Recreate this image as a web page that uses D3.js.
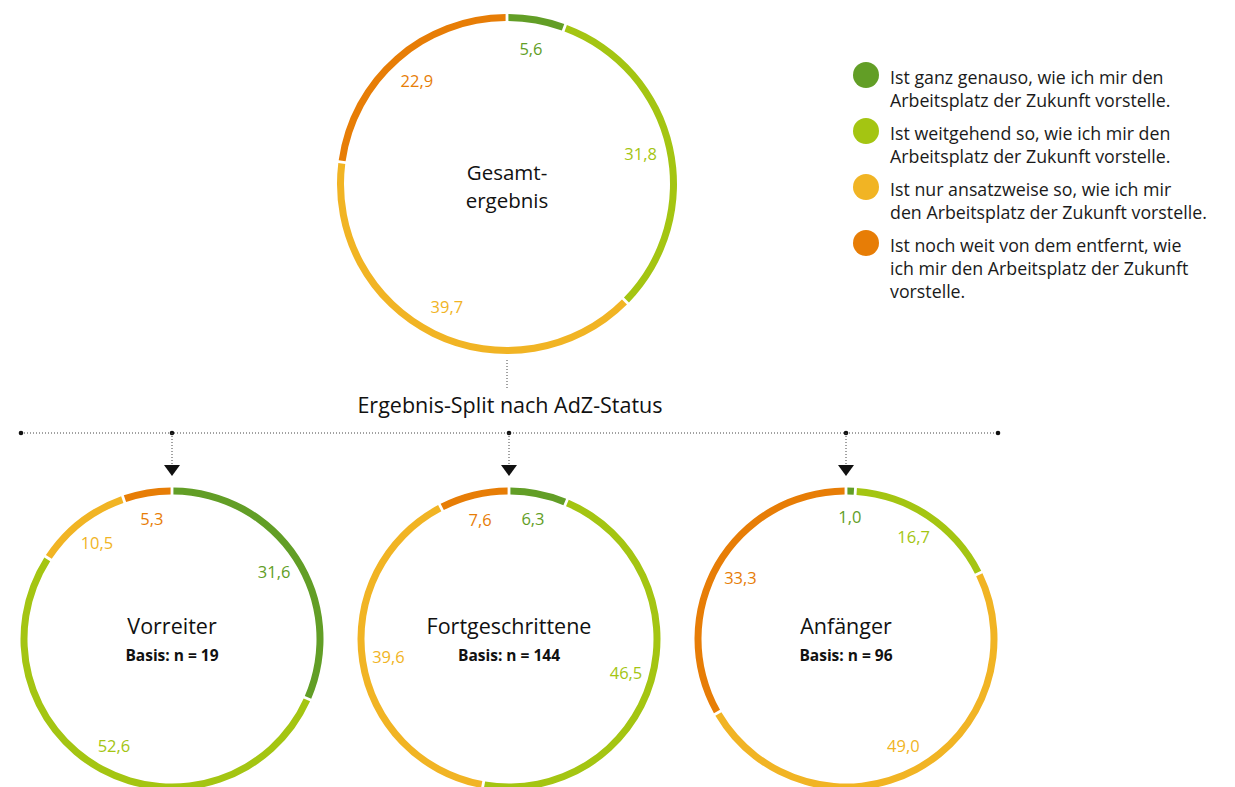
<!DOCTYPE html>
<html lang="de">
<head>
<meta charset="utf-8">
<script src="https://cdn.jsdelivr.net/npm/d3@7"></script>
<style>
  html, body { margin: 0; padding: 0; background: #fff; }
  svg { display: block; font-family: "Open Sans", "Noto Sans", sans-serif; }
  .val { font-weight: 400; font-size: 16.5px; }
  .title { font-size: 21.5px; fill: #111; }
  .title-main { font-size: 20.5px; fill: #111; }
  .basis { font-size: 15.5px; font-weight: 700; fill: #111; }
  .legend-text { font-size: 17.8px; fill: #1a1a1a; }
  .split { font-size: 21.5px; fill: #111; }
  .dotted { stroke: #444; stroke-width: 1; stroke-dasharray: 1,2; fill: none; }
</style>
</head>
<body>
<svg id="chart" width="1235" height="787"></svg>
<script>
// answer categories (legend), in ring order starting at 12 o'clock
const categories = [
  ['Ist ganz genauso, wie ich mir den', 'Arbeitsplatz der Zukunft vorstelle.'],
  ['Ist weitgehend so, wie ich mir den', 'Arbeitsplatz der Zukunft vorstelle.'],
  ['Ist nur ansatzweise so, wie ich mir', 'den Arbeitsplatz der Zukunft vorstelle.'],
  ['Ist noch weit von dem entfernt, wie', 'ich mir den Arbeitsplatz der Zukunft', 'vorstelle.']
];
const colors = ['#629e26', '#a4c512', '#f1b424', '#e77d06'];

// percentages per category
const gesamt           = [5.6, 31.8, 39.7, 22.9];
const vorreiter        = [31.6, 52.6, 10.5, 5.3];
const fortgeschrittene = [6.3, 46.5, 39.6, 7.6];
const anfaenger        = [1.0, 16.7, 49.0, 33.3];

const subGroups = ['Vorreiter', 'Fortgeschrittene', 'Anfänger'];
const subValues = [vorreiter, fortgeschrittene, anfaenger];
const basisN    = [19, 144, 96];
const splitTitle = 'Ergebnis-Split nach AdZ-Status';

const svg = d3.select('#chart');
const de = d3.formatLocale({ decimal: ',', thousands: '.', grouping: [3], currency: ['', ' €'] });
const fmt = de.format('.1f');

const pie = d3.pie().sort(null).value(d => d.value);
const RING = 7;

// Draws one ring with value labels, returns the group
function donut(values, cx, cy, R) {
  const g = svg.append('g').attr('transform', `translate(${cx},${cy})`);
  const arc = d3.arc()
    .innerRadius(R - RING).outerRadius(R)
    .padAngle(2 / (R - RING / 2));
  const labelArc = d3.arc().innerRadius(R * 0.805).outerRadius(R * 0.805);
  const arcs = pie(values.map((v, i) => ({ value: v, i })));

  g.selectAll('path.seg')
    .data(arcs)
    .join('path')
    .attr('class', 'seg')
    .attr('d', arc)
    .attr('fill', d => colors[d.data.i]);

  g.selectAll('text.val')
    .data(arcs)
    .join('text')
    .attr('class', 'val')
    .attr('transform', d => `translate(${labelArc.centroid(d)})`)
    .attr('text-anchor', 'middle')
    .attr('dy', '0.35em')
    .attr('fill', d => colors[d.data.i])
    .text(d => fmt(d.data.value));
  return g;
}

// top ring
const mainRing = donut(gesamt, 507, 184, 170);
['Gesamt-', 'ergebnis'].forEach((line, i) => {
  mainRing.append('text').attr('class', 'title-main')
    .attr('text-anchor', 'middle')
    .attr('y', -4 + i * 28)
    .text(line);
});

// split connector
const xSub = d3.scalePoint().domain(subGroups).range([172, 846]);
const lineY = 433;

svg.append('line').attr('class', 'dotted')
  .attr('x1', 507).attr('x2', 507).attr('y1', 360).attr('y2', 388);

svg.append('text').attr('class', 'split')
  .attr('x', 510).attr('y', 413)
  .attr('text-anchor', 'middle')
  .text(splitTitle);

svg.append('line').attr('class', 'dotted')
  .attr('x1', 21).attr('x2', 998).attr('y1', lineY).attr('y2', lineY);

const dotXs = [21, ...subGroups.map(g => xSub(g)), 998];
svg.selectAll('circle.knot')
  .data(dotXs)
  .join('circle')
  .attr('class', 'knot')
  .attr('cx', d => d).attr('cy', lineY).attr('r', 2.3)
  .attr('fill', '#111');

subGroups.forEach(g => {
  const x = xSub(g);
  svg.append('line').attr('class', 'dotted')
    .attr('x1', x).attr('x2', x).attr('y1', lineY).attr('y2', 466);
  svg.append('path')
    .attr('d', `M${x - 8},465 L${x + 8},465 L${x},476 Z`)
    .attr('fill', '#111');
});

// lower rings
subGroups.forEach((name, k) => {
  const g = donut(subValues[k], xSub(name), 639, 151.5);
  g.append('text').attr('class', 'title')
    .attr('text-anchor', 'middle').attr('y', -5)
    .text(name);
  g.append('text').attr('class', 'basis')
    .attr('text-anchor', 'middle').attr('y', 22)
    .text(`Basis: n = ${basisN[k]}`);
});

// legend
const legend = svg.append('g').attr('transform', 'translate(866,75)');
const item = legend.selectAll('g.item')
  .data(categories)
  .join('g')
  .attr('class', 'item')
  .attr('transform', (d, i) => `translate(0,${i * 56})`);

item.append('circle').attr('r', 13).attr('fill', (d, i) => colors[i]);

item.append('text').attr('class', 'legend-text')
  .selectAll('tspan')
  .data(d => d)
  .join('tspan')
  .attr('x', 24)
  .attr('y', (d, i) => 9 + i * 23)
  .text(d => d);
</script>
</body>
</html>
